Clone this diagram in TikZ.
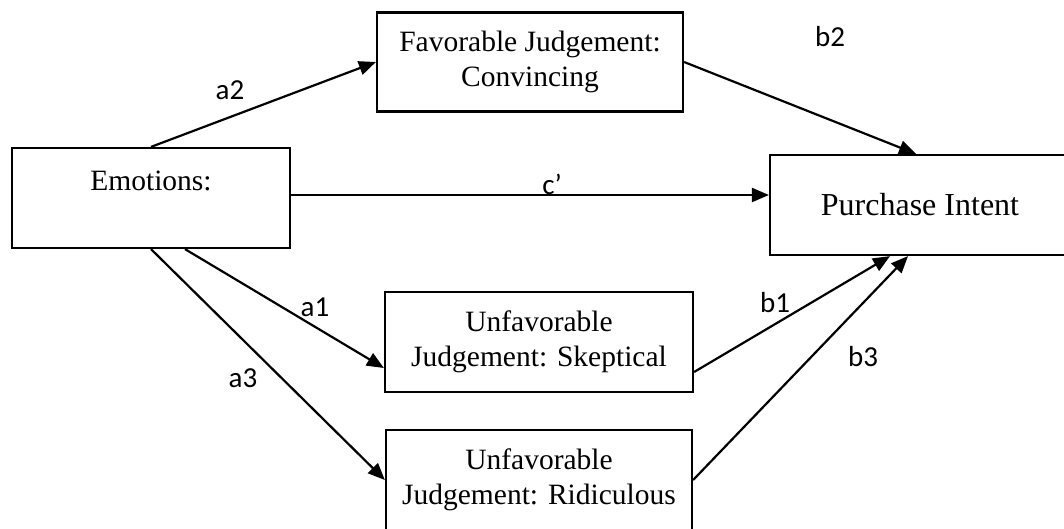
\documentclass[tikz,border=0pt]{standalone}
\usepackage{fontspec}
\setmainfont{Liberation Serif}
\newfontfamily\pathfont{Carlito}
\usetikzlibrary{arrows.meta}

\begin{document}
\begin{tikzpicture}[x=1pt, y=-1pt]
            \tikzstyle{box} = [draw, line width=2.2pt, inner sep=0pt, align=center, font=\fontsize{29.5}{35}\selectfont]
            \tikzstyle{link} = [line width=2.2pt, -{Triangle[length=17pt, width=14pt]}]
            \tikzstyle{coef} = [font=\pathfont\fontsize{29}{34}\selectfont, inner sep=0pt]
            \useasboundingbox (0, 0) rectangle (1064, 528);
            \clip (0, 0) rectangle (1064, 528);
            \node[box, minimum width=278pt, minimum height=100pt] (emo) at (151, 198) {Emotions:\\~};
            \node[box, minimum width=306pt, minimum height=99pt] (fav) at (530, 62) {Favorable Judgement:\\Convincing};
            \node[box, minimum width=300pt, minimum height=100pt, font=\fontsize{32}{38}\selectfont] (pur) at (920, 205) {Purchase Intent};
            \node[box, minimum width=308pt, minimum height=100pt] (skep) at (539, 342) {Unfavorable\\Judgement: Skeptical};
            \node[box, minimum width=306pt, minimum height=100pt] (ridi) at (539, 480) {Unfavorable\\Judgement: Ridiculous};
            \draw[link] (emo.north) -- (fav.west);
            \draw[link] (fav.east) -- ([xshift=-4pt]pur.north);
            \draw[link] ([yshift=3pt]emo.east) -- ([yshift=3pt]emo.east -| pur.west);
            \draw[link] ([xshift=34pt]emo.south) -- ([yshift=-26pt]skep.west);
            \draw[link] (emo.south) -- (ridi.west);
            \draw[link] ([yshift=-30pt]skep.east) -- ([xshift=-30pt]pur.south);
            \draw[link] (ridi.east) -- ([xshift=-12pt]pur.south);
            \node[coef] (a2) at (230, 90) {a2};
            \node[coef] (b2) at (830, 37) {b2};
            \node[coef] (c) at (552, 184) {c’};
            \node[coef] (a1) at (315, 307) {a1};
            \node[coef] (a3) at (243, 378) {a3};
            \node[coef] (b1) at (775, 303) {b1};
            \node[coef] (b3) at (863, 357) {b3};
        \end{tikzpicture}
\end{document}
